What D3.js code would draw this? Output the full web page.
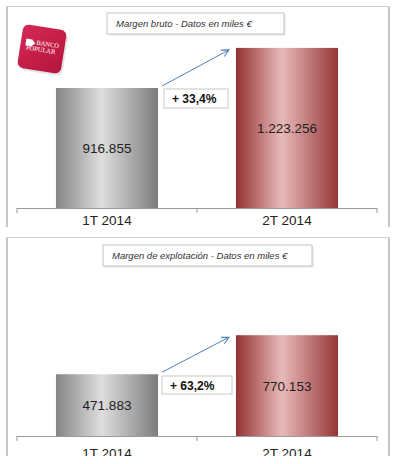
<!DOCTYPE html>
<html>
<head>
<meta charset="utf-8">
<script src="https://cdn.jsdelivr.net/npm/d3@7.9.0/dist/d3.min.js"></script>
<style>
  body { margin: 0; background: #fff; }
  svg { display: block; font-family: "Liberation Sans", Arial, sans-serif; }
</style>
</head>
<body>
<svg width="396" height="464"></svg>
<script>
const categories = ['1T 2014', '2T 2014'];
const margenBruto = [916855, 1223256];
const margenExplotacion = [471883, 770153];
const variaciones = ['+ 33,4%', '+ 63,2%'];
const titulos = ['Margen bruto - Datos en miles €', 'Margen de explotación - Datos en miles €'];

const fmt = (v) => d3.format(',')(v).replace(/,/g, '.');

const svg = d3.select('svg');
const defs = svg.append('defs');

function barGradient(id, edgeL, mid, edgeR) {
  const g = defs.append('linearGradient').attr('id', id)
    .attr('x1', '0%').attr('x2', '100%').attr('y1', '0%').attr('y2', '0%');
  g.append('stop').attr('offset', '0%').attr('stop-color', edgeL);
  g.append('stop').attr('offset', '45%').attr('stop-color', mid);
  g.append('stop').attr('offset', '100%').attr('stop-color', edgeR);
}
barGradient('grisBar', '#858585', '#dedede', '#7c7c7c');
barGradient('rojoBar', '#943232', '#e8b9b9', '#963636');
const fills = ['url(#grisBar)', 'url(#rojoBar)'];

defs.append('marker').attr('id', 'flecha')
  .attr('viewBox', '0 0 10 10').attr('refX', 9).attr('refY', 5)
  .attr('markerWidth', 9).attr('markerHeight', 9).attr('orient', 'auto')
  .append('path').attr('d', 'M1,1 L9,5 L1,9')
  .attr('fill', 'none').attr('stroke', '#4f7fb8').attr('stroke-width', 1.2);

const x = d3.scaleBand().domain(categories).range([17, 377])
  .paddingInner(0.433).paddingOuter(0.2165);

// mismo factor de escala en ambos paneles
const pxPorUnidad = 120 / 916855;

function panel(opts) {
  const { top, bottom, base, values, title, tbox, pbox, variation, labelY, clipId } = opts;
  const y = d3.scaleLinear().domain([0, 1400000]).range([base, base - 1400000 * pxPorUnidad]);

  defs.append('clipPath').attr('id', clipId)
    .append('rect').attr('x', 0).attr('y', top).attr('width', 396).attr('height', bottom - top);
  const g = svg.append('g').attr('clip-path', `url(#${clipId})`);

  // marco
  g.append('path')
    .attr('d', `M7,${bottom + 2} V${top} H389 V${bottom + 2}` + (opts.closed ? ` H7` : ''))
    .attr('fill', 'none').attr('stroke', '#a0a0a0').attr('stroke-width', 1.2);

  // caja de titulo
  g.append('rect').attr('x', tbox[0] + 1.5).attr('y', tbox[1] + 1.5)
    .attr('width', tbox[2]).attr('height', tbox[3]).attr('fill', '#e6e6e6');
  g.append('rect').attr('x', tbox[0]).attr('y', tbox[1])
    .attr('width', tbox[2]).attr('height', tbox[3])
    .attr('fill', '#fff').attr('stroke', '#c4c4c4');
  g.append('text').attr('x', tbox[0] + 9).attr('y', tbox[1] + 14)
    .attr('font-size', 9.5).attr('font-style', 'italic').attr('fill', '#333')
    .text(title);

  // barras
  g.selectAll('rect.bar').data(values).join('rect').attr('class', 'bar')
    .attr('x', (d, i) => x(categories[i]))
    .attr('y', (d) => y(d))
    .attr('width', x.bandwidth())
    .attr('height', (d) => y(0) - y(d))
    .attr('fill', (d, i) => fills[i]);

  g.selectAll('text.val').data(values).join('text').attr('class', 'val')
    .attr('x', (d, i) => x(categories[i]) + x.bandwidth() / 2)
    .attr('y', (d) => (y(d) + y(0)) / 2 + 5)
    .attr('text-anchor', 'middle').attr('font-size', 13.5).attr('fill', '#222')
    .text(fmt);

  // eje
  g.append('line').attr('x1', 17).attr('x2', 377).attr('y1', base + 0.5).attr('y2', base + 0.5)
    .attr('stroke', '#999');
  const cortes = [17, x(categories[1]) - x.step() * x.paddingInner() / 2, 377];
  g.selectAll('line.tick').data(cortes).join('line').attr('class', 'tick')
    .attr('x1', (d) => d).attr('x2', (d) => d)
    .attr('y1', base).attr('y2', base + 5).attr('stroke', '#999');
  g.selectAll('text.cat').data(categories).join('text').attr('class', 'cat')
    .attr('x', (d) => x(d) + x.bandwidth() / 2).attr('y', labelY)
    .attr('text-anchor', 'middle').attr('font-size', 13.5).attr('fill', '#222')
    .text((d) => d);

  // flecha de variacion
  const x0 = x(categories[0]) + x.bandwidth() + 4;
  const x1 = x(categories[1]) - 7;
  g.append('line')
    .attr('x1', x0).attr('y1', y(values[0]) - 2)
    .attr('x2', x1).attr('y2', y(values[1]) + 2)
    .attr('stroke', '#4f7fb8').attr('stroke-width', 1)
    .attr('marker-end', 'url(#flecha)');

  g.append('rect').attr('x', pbox[0]).attr('y', pbox[1])
    .attr('width', pbox[2]).attr('height', pbox[3])
    .attr('fill', '#fff').attr('stroke', '#c8c8c8');
  g.append('text').attr('x', pbox[0] + 8).attr('y', pbox[1] + 14)
    .attr('font-size', 12).attr('font-weight', 'bold').attr('fill', '#111')
    .text(variation);
}

panel({
  top: 6.5, bottom: 227, base: 208, values: margenBruto, title: titulos[0],
  tbox: [107, 13, 177, 21], pbox: [164, 89, 64, 19], variation: variaciones[0],
  labelY: 224.5, clipId: 'c1', closed: true
});
panel({
  top: 237.5, bottom: 456, base: 436, values: margenExplotacion, title: titulos[1],
  tbox: [103, 245, 209, 21], pbox: [162, 376, 70, 18], variation: variaciones[1],
  labelY: 458, clipId: 'c2', closed: false
});

// logo Banco Popular
const logo = svg.append('g').attr('transform', 'translate(42,49) rotate(9)');
logo.append('rect').attr('x', -20).attr('y', -20).attr('width', 44).attr('height', 44)
  .attr('rx', 6).attr('fill', '#d8d8d8').attr('opacity', 0.7);
const lg = defs.append('linearGradient').attr('id', 'logoGrad')
  .attr('x1', '0%').attr('y1', '0%').attr('x2', '100%').attr('y2', '100%');
lg.append('stop').attr('offset', '0%').attr('stop-color', '#d42a55');
lg.append('stop').attr('offset', '100%').attr('stop-color', '#b5143c');
logo.append('rect').attr('x', -22).attr('y', -22).attr('width', 44).attr('height', 44)
  .attr('rx', 6).attr('fill', 'url(#logoGrad)');
logo.append('path').attr('d', 'M-17,-8 h6 l3.5,3.5 l-3.5,3.5 h-6 z').attr('fill', '#fff');
logo.append('text').attr('x', -6.5).attr('y', -3.5).attr('font-size', 6.5)
  .attr('fill', '#fff').attr('font-family', 'Liberation Serif, serif').text('BANCO');
logo.append('text').attr('x', -16).attr('y', 3).attr('font-size', 6.5)
  .attr('fill', '#fff').attr('font-family', 'Liberation Serif, serif').text('POPULAR');
</script>
</body>
</html>
